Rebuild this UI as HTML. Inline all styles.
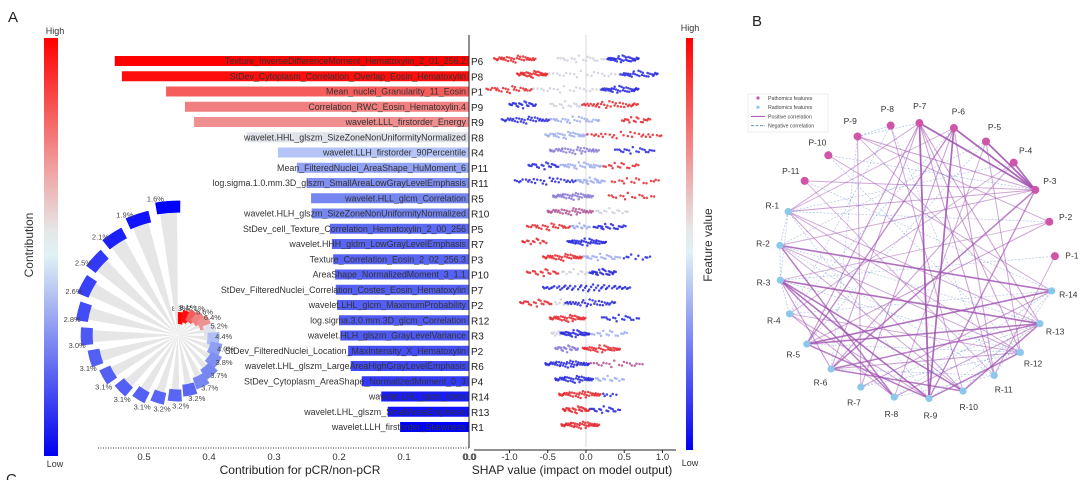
<!DOCTYPE html>
<html><head><meta charset="utf-8">
<style>
html,body{margin:0;padding:0;background:#fff;}
svg{display:block;font-family:"Liberation Sans",Arial,sans-serif;}
</style></head>
<body>
<svg id="fig" width="1080" height="480" viewBox="0 0 1080 480" xmlns="http://www.w3.org/2000/svg">
<defs>
<linearGradient id="cbar" x1="0" y1="0" x2="0" y2="1">
<stop offset="0" stop-color="#ff0000"/><stop offset="0.3" stop-color="#f09a9a"/>
<stop offset="0.46" stop-color="#e6e6e6"/><stop offset="0.52" stop-color="#dff2f4"/>
<stop offset="0.64" stop-color="#a8b6f2"/><stop offset="1" stop-color="#0000f0"/>
</linearGradient>
</defs>
<text x="8" y="22" font-size="15" fill="#222">A</text>
<text x="6" y="484" font-size="15" fill="#222">C</text>
<text x="752" y="26" font-size="15" fill="#222">B</text>
<g>
<rect x="44" y="38" width="14" height="418" fill="url(#cbar)"/>
<text x="55" y="34" font-size="9" text-anchor="middle" fill="#333">High</text>
<text x="55" y="467" font-size="9" text-anchor="middle" fill="#333">Low</text>
<text transform="translate(33,245) rotate(-90)" font-size="12" text-anchor="middle" fill="#333">Contribution</text>
</g>
<g>
<rect x="686" y="38" width="7" height="412" fill="url(#cbar)"/>
<text x="690" y="31" font-size="9" text-anchor="middle" fill="#333">High</text>
<text x="690" y="466" font-size="9" text-anchor="middle" fill="#333">Low</text>
<text transform="translate(712,245) rotate(-90)" font-size="12" text-anchor="middle" fill="#333">Feature value</text>
</g>
<g id="bars"></g>
<g id="polar"></g>
<g id="shap"></g>
<g id="net"></g>
</svg>
<script>
// ---------- data ----------
const featureCodes = ["P6","P8","P1","P9","R9","R8","R4","P11","R11","R5","R10","P5","R7","P3","P10","P7","P2","R12","R3","P2","R6","P4","R14","R13","R1"];
const featureNames = ["Texture_InverseDifferenceMoment_Hematoxylin_2_01_256.2","StDev_Cytoplasm_Correlation_Overlap_Eosin_Hematoxylin","Mean_nuclei_Granularity_11_Eosin","Correlation_RWC_Eosin_Hematoxylin.4","wavelet.LLL_firstorder_Energy","wavelet.HHL_glszm_SizeZoneNonUniformityNormalized","wavelet.LLH_firstorder_90Percentile","Mean_FilteredNuclei_AreaShape_HuMoment_6","log.sigma.1.0.mm.3D_glszm_SmallAreaLowGrayLevelEmphasis","wavelet.HLL_glcm_Correlation","wavelet.HLH_glszm_SizeZoneNonUniformityNormalized","StDev_cell_Texture_Correlation_Hematoxylin_2_00_256","wavelet.HHH_gldm_LowGrayLevelEmphasis","Texture_Correlation_Eosin_2_02_256.3","AreaShape_NormalizedMoment_3_1.1","StDev_FilteredNuclei_Correlation_Costes_Eosin_Hematoxylin","wavelet.LHL_glcm_MaximumProbability","log.sigma.3.0.mm.3D_glcm_Correlation","wavelet.HLH_glszm_GrayLevelVariance","StDev_FilteredNuclei_Location_MaxIntensity_X_Hematoxylin","wavelet.LHL_glszm_LargeAreaHighGrayLevelEmphasis","StDev_Cytoplasm_AreaShape_NormalizedMoment_0_3","wavelet.LHL_glcm_Idmn","wavelet.LHL_glszm_SmallAreaEmphasis","wavelet.LLH_firstorder_Skewness"];
const contributions = [0.545,0.534,0.466,0.437,0.423,0.342,0.294,0.265,0.250,0.243,0.242,0.214,0.211,0.209,0.206,0.205,0.203,0.200,0.198,0.186,0.182,0.165,0.135,0.125,0.106];
const barTicks = [0.0,0.1,0.2,0.3,0.4,0.5];
const polarValues = [8.3,8.1,7.1,6.6,6.4,5.2,4.4,4.0,3.8,3.7,3.7,3.2,3.2,3.2,3.1,3.1,3.1,3.1,3.0,2.8,2.6,2.5,2.1,1.9,1.6];
const shapTicks = [-1.0,-0.5,0.0,0.5,1.0];
// per-row SHAP clusters: [low, high, colour-class, count]
const shapClusters = [
 [[-1.2,-0.65,'r',34],[-0.38,0.25,'g',18],[0.28,0.7,'b',34]],
 [[-0.9,-0.5,'r',34],[-0.5,0.45,'g',20],[0.45,0.95,'b',30]],
 [[-1.3,-0.7,'r',26],[-0.7,0.2,'g',20],[0.2,0.7,'b',36]],
 [[-1.0,-0.65,'b',22],[-0.5,0.0,'g',16],[-0.05,0.7,'r',36]],
 [[-1.1,-0.47,'b',34],[-0.47,0.18,'lb',26],[0.45,0.85,'r',18]],
 [[-0.53,0.0,'lb',30],[0.0,1.0,'r',28]],
 [[-0.47,0.18,'p',38],[0.37,0.9,'b',20]],
 [[-0.75,-0.34,'b',20],[-0.34,0.2,'lb',28],[0.2,0.7,'r',16]],
 [[-0.93,-0.12,'b',30],[-0.12,0.25,'lb',24],[0.3,0.97,'r',16]],
 [[-0.43,0.1,'p',40],[0.25,0.9,'r',16]],
 [[-0.5,0.1,'pr',36],[0.1,0.55,'g',14]],
 [[-0.77,-0.2,'r',26],[-0.2,0.05,'lb',14],[0.1,0.53,'b',22]],
 [[-0.83,-0.5,'r',14],[-0.25,0.26,'b',40]],
 [[-0.56,-0.04,'r',34],[-0.04,0.45,'lb',22],[0.45,0.85,'b',10]],
 [[-0.77,-0.34,'r',18],[-0.34,0.05,'g',12],[0.05,0.4,'b',26]],
 [[-0.56,0.6,'b',52]],
 [[-0.86,-0.43,'r',20],[-0.43,-0.2,'g',8],[-0.27,0.4,'b',34]],
 [[-0.47,0.0,'r',36],[0.2,0.7,'b',18]],
 [[-0.45,-0.3,'g',8],[-0.34,0.05,'b',34],[0.05,0.55,'lb',16]],
 [[-0.4,-0.1,'p',22],[-0.05,0.45,'r',34]],
 [[-0.53,0.05,'b',44],[0.05,0.75,'pr',20]],
 [[-0.4,0.1,'b',38],[0.1,0.5,'lb',14]],
 [[-0.35,0.2,'r',40],[0.2,0.4,'b',6]],
 [[-0.3,0.05,'r',28],[0.05,0.45,'b',18]],
 [[-0.32,0.18,'r',42]]
];
const nodeNames = ["P-7","P-6","P-5","P-4","P-3","P-2","P-1","R-14","R-13","R-12","R-11","R-10","R-9","R-8","R-7","R-6","R-5","R-4","R-3","R-2","R-1","P-11","P-10","P-9","P-8"];
const edgeFrom = ["P-7","P-6","P-7","P-6","P-5","P-4","R-2","R-3","R-3","R-5","R-5","R-3","R-6","R-9","R-10","R-6","R-5","R-3","R-2","P-3","P-3","P-6",
 "P-9","P-9","P-11","R-1","R-1","R-1","P-7","P-7","P-7","P-7","P-7","P-6","P-6","P-5","P-5","P-4","P-2","P-1","P-9","P-10","R-2","R-4","R-4","R-1","P-8","P-11","R-2","R-3","R-4","P-7","P-9","P-2","P-4","P-3","R-14","R-13","R-12","P-6",
 "P-9","P-9","P-10","P-11","R-1","R-2","R-3","R-1","P-8","P-10","P-9","P-5","P-4","P-2","P-1","R-2","R-3","R-4","R-5","R-6","R-7","R-7","R-8","R-8","R-9","R-10","R-11","P-8","P-6","P-5","R-1","R-2"];
const edgeTo = ["R-9","R-9","P-3","P-3","P-3","P-3","R-14","R-13","R-9","R-14","R-13","R-10","R-13","R-12","R-13","R-10","R-9","R-8","R-8","R-6","R-9","R-5",
 "P-3","P-2","P-3","P-3","R-10","R-12","R-5","R-6","R-11","R-12","R-13","R-7","R-11","R-8","R-12","R-6","R-5","R-11","R-7","R-14","R-12","R-9","R-12","R-13","R-10","R-11","R-10","R-6","R-8","R-1","R-13","R-3","R-4","R-2","R-7","R-8","R-6","R-1",
 "P-8","P-7","P-3","R-14","R-2","R-3","R-4","R-3","R-11","R-12","R-6","R-2","R-1","R-1","R-3","R-13","R-12","R-14","R-12","R-11","R-12","R-13","R-11","R-14","R-13","R-14","R-14","R-4","R-4","R-5","R-9","R-11"];
const edgeSign = [1,1,1,1,1,1,1,1,1,1,1,1,1,1,1,1,1,1,1,1,1,1,
 1,1,1,1,1,1,1,1,1,1,1,1,1,1,1,1,1,1,1,1,1,1,1,1,1,1,1,1,1,1,1,1,1,1,1,1,1,1,
 -1,-1,-1,-1,-1,-1,-1,-1,-1,-1,-1,-1,-1,-1,-1,-1,-1,-1,-1,-1,-1,-1,-1,-1,-1,-1,-1,-1,-1,-1,-1,-1];
const edgeStrength = [0.9,0.85,0.9,0.9,0.9,0.85,0.8,0.8,0.8,0.8,0.75,0.75,0.7,0.7,0.7,0.7,0.7,0.7,0.7,0.7,0.6,0.6,
 0.4,0.35,0.35,0.4,0.4,0.35,0.45,0.4,0.4,0.4,0.4,0.4,0.4,0.35,0.35,0.4,0.4,0.35,0.35,0.35,0.35,0.4,0.35,0.35,0.35,0.3,0.35,0.45,0.35,0.35,0.3,0.3,0.3,0.35,0.4,0.4,0.4,0.3,
 0.6,0.5,0.5,0.4,0.5,0.5,0.5,0.4,0.4,0.4,0.4,0.4,0.4,0.4,0.4,0.4,0.4,0.4,0.4,0.4,0.5,0.4,0.4,0.4,0.4,0.4,0.4,0.4,0.4,0.4,0.4,0.4];

// ---------- helpers ----------
const NS="http://www.w3.org/2000/svg";
function mk(parent,tag,attrs,text){const e=document.createElementNS(NS,tag);for(const k in attrs)e.setAttribute(k,attrs[k]);if(text!==undefined)e.textContent=text;parent.appendChild(e);return e;}
function lerp(a,b,t){return a+(b-a)*t;}
const stops=[[0,[0,0,255]],[0.3,[112,128,240]],[0.45,[192,208,248]],[0.56,[232,232,232]],[0.72,[240,144,144]],[1,[255,0,0]]];
function scale(t){t=Math.max(0,Math.min(1,t));for(let i=1;i<stops.length;i++){if(t<=stops[i][0]){const a=stops[i-1],b=stops[i];const u=(t-a[0])/(b[0]-a[0]);return "rgb("+[0,1,2].map(j=>Math.round(lerp(a[1][j],b[1][j],u))).join(",")+")";}}return "rgb(255,0,0)";}

// ---------- bar chart ----------
const bars=document.getElementById('bars');
const bx=v=>469-v*650;
const rowY=i=>61+i*15.25;
const cMin=Math.min(...contributions),cMax=Math.max(...contributions);
featureCodes.forEach((c,i)=>{
  const y=rowY(i),v=contributions[i];
  const r=mk(bars,'rect',{x:bx(v),y:y-5,width:469-bx(v),height:10,fill:scale((v-cMin)/(cMax-cMin))});
  
  
  const t=mk(bars,'text',{x:466,y:y+3,'font-size':8.9,'text-anchor':'end',fill:'#333'},featureNames[i]);
  
  
  const t2=mk(bars,'text',{x:471,y:y+4,'font-size':10,fill:'#222'},c);
  
  
});
let ax=mk(bars,'line',{x1:469,y1:35,x2:469,y2:448,stroke:'#222','stroke-width':1});


ax=mk(bars,'line',{x1:98,y1:448,x2:469,y2:448,stroke:'#333','stroke-width':1,'stroke-dasharray':'1 1.5'});


barTicks.forEach(v=>{
  const t=mk(bars,'text',{x:bx(v),y:460,'font-size':9.5,'text-anchor':'middle',fill:'#333'},v.toFixed(1));
  
  
});
let bt=mk(bars,'text',{x:300,y:474,'font-size':12,'text-anchor':'middle',fill:'#222'},'Contribution for pCR/non-pCR');



// ---------- polar chart ----------
const polar=document.getElementById('polar');
const pcx=178,pcy=335;
const pMin=Math.min(...polarValues),pMax=Math.max(...polarValues);
const pStep=14.4,pStart=10;
function pt(a,r){const rad=a*Math.PI/180;return [pcx+r*Math.sin(rad),pcy-r*Math.cos(rad)];}
function wedge(a0,a1,r0,r1){const p1=pt(a0,r0),p2=pt(a0,r1),p3=pt(a1,r1),p4=pt(a1,r0);return `M${p1[0]},${p1[1]}L${p2[0]},${p2[1]}A${r1},${r1} 0 0 1 ${p3[0]},${p3[1]}L${p4[0]},${p4[1]}A${r0},${r0} 0 0 0 ${p1[0]},${p1[1]}Z`;}
polarValues.forEach((v,i)=>{
  const a=pStart+i*pStep, r=17+2.6*i+0.085*i*i;
  const half=Math.min(13,Math.max(5.4,6.5/r*180/Math.PI));
  const s=mk(polar,'path',{d:wedge(a-4,a+4,0.5,r-6),fill:'#e6e6e6'});
  
  
  const w=mk(polar,'path',{d:wedge(a-half,a+half,Math.max(1,r-6),r+6),fill:scale((v-pMin)/(pMax-pMin))});
  
  
  const lp=pt(a-5,r+10);
  const t=mk(polar,'text',{x:lp[0],y:lp[1]+3,'font-size':7.5,'text-anchor':'middle',fill:'#444'},v.toFixed(1)+'%');
  
  
});

// ---------- SHAP beeswarm ----------
const shap=document.getElementById('shap');
const sx=v=>586+v*76.5;
const sCols={r:'#e4262c',lr:'#f09090',g:'#cfd0da',lb:'#9cacf0',p:'#8a78d8',pr:'#b05090',b:'#2626dc'};
let gl=mk(shap,'line',{x1:586,y1:35,x2:586,y2:447,stroke:'#d8d8d8','stroke-width':1});


shapClusters.forEach((row,i)=>{
  const y=rowY(i)-2;
  row.forEach((cl,j)=>{
    const [lo,hi,col,n]=cl;
    for(let k=0;k<n;k++){
      const u=((k*0.6180339)+j*0.13)%1;
      const mid=1-Math.abs(u-0.5)*1.6;
      const jy=(((k*37+j*11)%9)-4)*0.9*mid;
      const d=mk(shap,'circle',{cx:sx(lo+(hi-lo)*u),cy:y+jy,r:1.25,fill:sCols[col],'fill-opacity':0.85});
      
      
    }
  });
});
ax=mk(shap,'line',{x1:474,y1:450,x2:676,y2:450,stroke:'#222','stroke-width':1});


let z=mk(shap,'text',{x:470,y:460,'font-size':9.5,'text-anchor':'middle',fill:'#333'},'0.0');


shapTicks.forEach(v=>{
  const tk=mk(shap,'line',{x1:sx(v),y1:450,x2:sx(v),y2:453,stroke:'#222'});
  
  
  const t=mk(shap,'text',{x:sx(v),y:460,'font-size':9.5,'text-anchor':'middle',fill:'#333'},v.toFixed(1));
  
  
});
bt=mk(shap,'text',{x:572,y:474,'font-size':12,'text-anchor':'middle',fill:'#222'},'SHAP value (impact on model output)');



// ---------- network ----------
const net=document.getElementById('net');
const ncx=917,ncy=261,nr=138,nStep=14.5;
const nodePos={};
nodeNames.forEach((n,i)=>{const a=(i*nStep+1)*Math.PI/180;nodePos[n]=[ncx+nr*Math.sin(a),ncy-nr*Math.cos(a),a];});
edgeFrom.forEach((f,i)=>{
  const a=nodePos[f],b=nodePos[edgeTo[i]],s=edgeStrength[i];
  const pos=edgeSign[i]>0;
  const attrs={x1:a[0],y1:a[1],x2:b[0],y2:b[1],stroke:pos?'#a050b0':'#6a8ad0','stroke-opacity':pos?0.25+0.7*s:0.3+0.5*s,'stroke-width':pos?0.5+1.4*s:0.7};
  if(!pos)attrs['stroke-dasharray']='2 1.5';
  const l=mk(net,'line',attrs);
  
  
});
nodeNames.forEach(n=>{
  const p=nodePos[n],isP=n[0]==='P';
  const c=mk(net,'circle',{cx:p[0],cy:p[1],r:isP?4:3.6,fill:isP?'#d055a8':'#8cc8ec'});
  
  
  const lx=ncx+(nr+17)*Math.sin(p[2]),ly=ncy-(nr+17)*Math.cos(p[2]);
  const t=mk(net,'text',{x:lx,y:ly+3,'font-size':8.5,'text-anchor':'middle',fill:'#333'},n);
  
  
});
// legend
const lg=mk(net,'g',{});


const lb=mk(lg,'rect',{x:748,y:94,width:80,height:38,fill:'#fff',stroke:'#ddd','stroke-width':0.5});


const legendLabels=["Pathomics features","Radiomics features","Positive correlation","Negative correlation"];
legendLabels.forEach((lab,i)=>{
  const y=98+i*9.2;
  let m;
  if(i<2){m=mk(lg,'circle',{cx:758,cy:y,r:1.6,fill:i===0?'#d055a8':'#8cc8ec'});}
  else{m=mk(lg,'line',{x1:751,y1:y,x2:765,y2:y,stroke:i===2?'#a050b0':'#6a8ad0','stroke-width':1,'stroke-dasharray':i===3?'3 1.5':'none'});}
  
  
  const t=mk(lg,'text',{x:768,y:y+2,'font-size':5.2,fill:'#444'},lab);
  
  
});
</script>
</body></html>
